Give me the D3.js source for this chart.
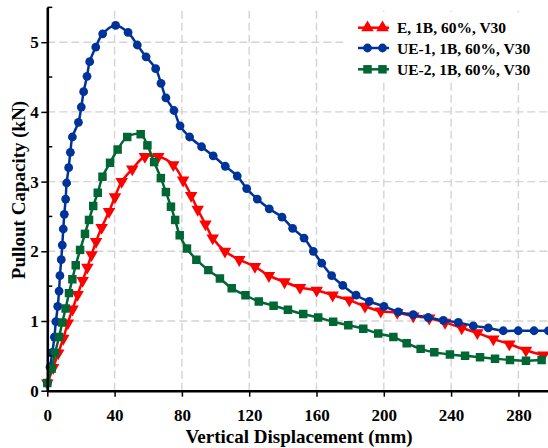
<!DOCTYPE html>
<html>
<head>
<meta charset="utf-8">
<script src="https://cdn.jsdelivr.net/npm/d3@7"></script>
<style>
  html, body { margin: 0; padding: 0; background: #fff; }
  svg { display: block; font-family: "Liberation Serif", "Times New Roman", serif; font-weight: bold; }
</style>
</head>
<body>
<svg id="chart" width="548" height="448"></svg>
<script>
// Pullout capacity vs. vertical displacement for three anchor configurations
const xTicks = [0, 40, 80, 120, 160, 200, 240, 280];
const yTicks = [0, 1, 2, 3, 4, 5];
const yMinorTicks = [0.5, 1.5, 2.5, 3.5, 4.5, 5.5];

const seriesNames = ["E, 1B, 60%, V30", "UE-1, 1B, 60%, V30", "UE-2, 1B, 60%, V30"];

// E, 1B, 60%, V30
const eDisp = [0, 3.5, 6.5, 9.5, 12.2, 15.0, 18.0, 21.0, 23.8, 26.3, 29.0, 32.3, 36.7, 40.2, 44.2, 50.5,
  58.0, 66.0, 74.9, 80.7, 85.5, 89.4, 94.0, 98.3, 105.6, 114.1, 123.4, 131.7, 141.0, 150.2, 160.1,
  169.6, 179.5, 188.8, 198.2, 208.0, 217.5, 227.0, 236.4, 246.3, 255.6, 265.1, 274.6, 284.5, 294.8];
const eLoad = [0.11, 0.33, 0.54, 0.75, 0.97, 1.17, 1.38, 1.58, 1.77, 1.95, 2.14, 2.34, 2.57, 2.78, 3.00, 3.18,
  3.36, 3.36, 3.24, 3.02, 2.80, 2.60, 2.39, 2.19, 2.00, 1.88, 1.78, 1.65, 1.56, 1.48, 1.44,
  1.37, 1.30, 1.21, 1.14, 1.12, 1.07, 1.04, 0.98, 0.90, 0.83, 0.74, 0.67, 0.58, 0.51];

// UE-1, 1B, 60%, V30
const ue1Disp = [0, 1.6, 3.0, 4.2, 5.1, 6.2, 7.0, 7.5, 8.3, 8.9, 9.5, 10.1, 10.9, 11.5, 12.7, 13.7, 14.9,
  18.5, 20.2, 21.6, 23.6, 25.2, 28.8, 32.9, 40.6, 48.0, 53.5, 58.7, 64.4, 67.6, 70.5, 75.3, 78.9,
  84.6, 91.7, 98.6, 105.8, 112.9, 118.5, 124.8, 131.9, 139.5, 145.8, 152.6, 158.1, 163.1, 169.0,
  175.6, 183.5, 191.4, 200.1, 208.6, 217.5, 226.4, 235.4, 244.3, 253.2, 262.1, 271.0, 279.9, 289.3, 297.8];
const ue1Load = [0.11, 0.34, 0.55, 0.77, 0.99, 1.21, 1.43, 1.65, 1.88, 2.09, 2.32, 2.53, 2.75, 2.98, 3.20, 3.42, 3.64,
  3.85, 4.07, 4.29, 4.51, 4.72, 4.93, 5.12, 5.24, 5.14, 4.96, 4.79, 4.62, 4.41, 4.20, 4.02, 3.80,
  3.64, 3.50, 3.37, 3.22, 3.08, 2.90, 2.75, 2.61, 2.49, 2.33, 2.19, 2.00, 1.83, 1.65,
  1.51, 1.37, 1.28, 1.21, 1.13, 1.09, 1.05, 1.01, 0.98, 0.93, 0.90, 0.86, 0.86, 0.86, 0.86];

// UE-2, 1B, 60%, V30
const ue2Disp = [0, 2.6, 4.6, 7.0, 8.9, 10.9, 12.9, 14.9, 16.9, 19.5, 22.4, 24.8, 27.3, 30.0, 32.8, 37.3,
  41.8, 47.5, 55.5, 59.5, 63.5, 67.5, 70.5, 73.5, 76.0, 78.7, 83.0, 88.6, 95.7, 102.6, 109.6, 117.8,
  125.7, 134.5, 143.0, 152.1, 161.0, 169.9, 178.9, 187.8, 196.7, 205.7, 213.6, 221.9, 230.0, 239.3,
  248.3, 257.2, 266.1, 275.0, 284.5, 293.8];
const ue2Load = [0.11, 0.32, 0.54, 0.77, 0.98, 1.18, 1.40, 1.60, 1.80, 2.02, 2.25, 2.45, 2.65, 2.84, 3.07, 3.27,
  3.46, 3.64, 3.68, 3.52, 3.28, 3.05, 2.85, 2.64, 2.45, 2.23, 2.04, 1.88, 1.73, 1.61, 1.47, 1.37,
  1.28, 1.22, 1.16, 1.10, 1.05, 0.99, 0.94, 0.89, 0.82, 0.77, 0.68, 0.60, 0.55, 0.52,
  0.50, 0.48, 0.46, 0.44, 0.43, 0.44];

const colors = ["#ff0000", "#003399", "#006633"];

const svg = d3.select("#chart");
const W = 548, H = 448;

const x = d3.scaleLinear().domain([0, 300]).range([47.3, 47.3 + 300 * 1.6825]);
const y = d3.scaleLinear().domain([0, 5.5]).range([390.7, 390.7 - 5.5 * 69.7]);

// grid
const grid = svg.append("g").attr("stroke", "#d4d4d4").attr("stroke-width", 1.4)
  .attr("stroke-dasharray", "8,4").attr("fill", "none");
grid.selectAll("line.v").data(xTicks.filter(d => d > 0)).join("line")
  .attr("x1", d => x(d)).attr("x2", d => x(d))
  .attr("y1", y(0)).attr("y2", y(5.5));
grid.selectAll("line.h").data(yTicks.filter(d => d > 0)).join("line")
  .attr("class", "h")
  .attr("x1", x(0)).attr("x2", W)
  .attr("y1", d => y(d)).attr("y2", d => y(d));

// legend background hides grid behind it
svg.append("rect").attr("x", 345).attr("y", 12).attr("width", W - 345).attr("height", 70).attr("fill", "#fff");

// series
const series = [
  { name: seriesNames[0], xs: eDisp, ys: eLoad, color: colors[0], shape: "tri" },
  { name: seriesNames[1], xs: ue1Disp, ys: ue1Load, color: colors[1], shape: "circle" },
  { name: seriesNames[2], xs: ue2Disp, ys: ue2Load, color: colors[2], shape: "square" }
];

svg.append("defs").append("clipPath").attr("id", "plotClip")
  .append("rect").attr("x", 0).attr("y", 0).attr("width", W).attr("height", y(0) + 6);

const line = d3.line().x(d => x(d[0])).y(d => y(d[1])).curve(d3.curveCatmullRom.alpha(0.5));

function marker(g, shape, color, legend) {
  if (shape === "circle") {
    g.append("circle").attr("r", 4.4).attr("fill", color);
  } else if (shape === "square") {
    g.append("path").attr("d", d3.symbol(d3.symbolSquare, 72)()).attr("fill", color);
  } else {
    g.append("path").attr("d", d3.symbol(d3.symbolTriangle, 68)())
      .attr("transform", legend ? null : "rotate(180)").attr("fill", color);
  }
}

const plot = svg.append("g").attr("clip-path", "url(#plotClip)");
series.forEach(s => {
  const pts = s.xs.map((v, i) => [v, s.ys[i]]);
  const g = plot.append("g");
  g.append("path").datum(pts).attr("d", line)
    .attr("fill", "none").attr("stroke", s.color).attr("stroke-width", 2.5);
  g.selectAll("g.m").data(pts).join("g")
    .attr("transform", d => `translate(${x(d[0])},${y(d[1])})`)
    .each(function () { marker(d3.select(this), s.shape, s.color, false); });
});

// axes
const xAxis = svg.append("g").attr("transform", `translate(0,${y(0)})`)
  .call(d3.axisBottom(x).tickValues(xTicks).tickFormat(d3.format("d")).tickSize(6).tickSizeOuter(0));
xAxis.select(".domain").attr("stroke", "#000").attr("stroke-width", 2.6);
xAxis.selectAll(".tick line").attr("stroke", "#000").attr("stroke-width", 1.5);
xAxis.selectAll("text").attr("y", 30).attr("dy", null)
  .attr("font-size", 17).attr("font-family", "Liberation Serif").attr("font-weight", "bold").attr("fill", "#000");

const yAxis = svg.append("g").attr("transform", `translate(${x(0)},0)`)
  .call(d3.axisLeft(y).tickValues(yTicks).tickFormat(d3.format("d")).tickSize(6).tickSizeOuter(0));
yAxis.select(".domain").attr("stroke", "#000").attr("stroke-width", 2.6);
yAxis.selectAll(".tick line").attr("stroke", "#000").attr("stroke-width", 1.5);
yAxis.selectAll("text").attr("x", -8.5).attr("dy", "0.33em")
  .attr("font-size", 17).attr("font-family", "Liberation Serif").attr("font-weight", "bold").attr("fill", "#000");

// minor y ticks pointing inward
svg.append("g").selectAll("line").data(yMinorTicks).join("line")
  .attr("x1", x(0)).attr("x2", x(0) + 5)
  .attr("y1", d => y(d)).attr("y2", d => y(d))
  .attr("stroke", "#000").attr("stroke-width", 1.5);

// axis titles
svg.append("text").attr("x", 299).attr("y", 443).attr("text-anchor", "middle")
  .attr("font-size", 19).text("Vertical Displacement (mm)");
svg.append("text").attr("transform", "translate(24.5,190) rotate(-90)").attr("text-anchor", "middle")
  .attr("font-size", 19).text("Pullout Capacity (kN)");

// legend
const legendY = [27.7, 48, 69.3];
series.forEach((s, i) => {
  const g = svg.append("g").attr("transform", `translate(0,${legendY[i]})`);
  g.append("line").attr("x1", 358).attr("x2", 389).attr("stroke", s.color).attr("stroke-width", 2.5);
  [367.5, 382.5].forEach(mx => {
    const m = g.append("g").attr("transform", `translate(${mx},0)`);
    marker(m, s.shape, s.color, true);
  });
  g.append("text").attr("x", 397).attr("y", 5.5).attr("font-size", 15.5).attr("fill", "#000").text(s.name);
});
</script>
</body>
</html>
